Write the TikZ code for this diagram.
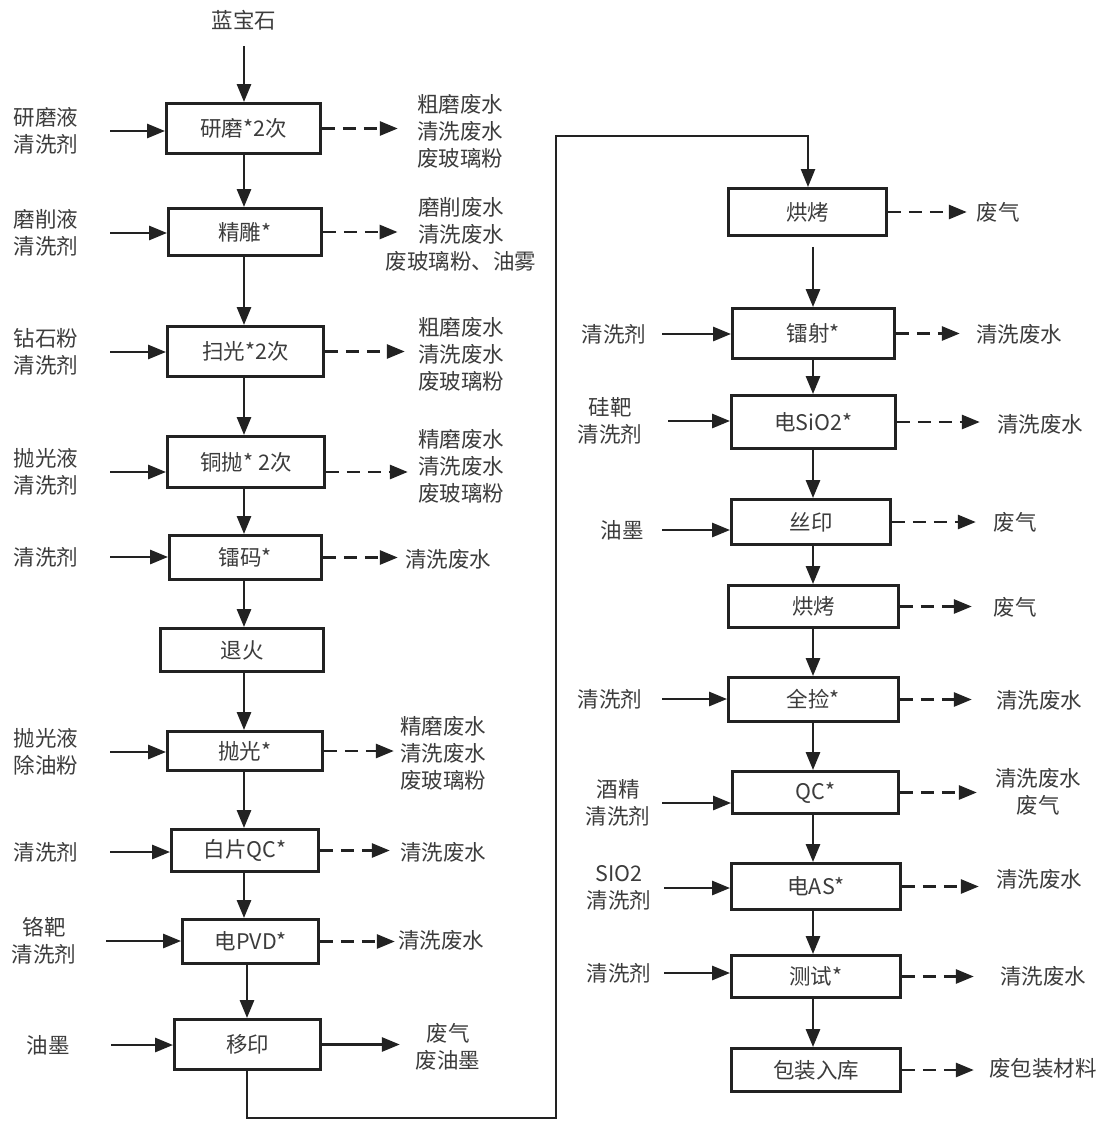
\documentclass[tikz,border=0pt]{standalone}
\usepackage{fontspec}
\newfontfamily\cn{Noto Sans CJK SC}
\usetikzlibrary{arrows.meta}
\definecolor{lc}{HTML}{222222}
\definecolor{tc}{HTML}{3C3C3C}
\newcommand\cnf{\cn\fontsize{21.5pt}{27pt}\selectfont}
\begin{document}
\begin{tikzpicture}[x=1pt,y=-1pt,
  every node/.style={font=\cnf, text=tc, inner sep=0pt, align=center},
  pbox/.style={draw=lc, line width=2.9pt},
  arr/.style={draw=lc, line width=2.8pt, -{Triangle[length=18pt,width=14pt]}},
  darr/.style={arr, dash pattern=on 13pt off 8pt},
  loopline/.style={arr, line width=2.3pt}]
\fill[white] (0,0) rectangle (1102,1121);
\useasboundingbox (0,0) rectangle (1102,1121);

\coordinate (cL) at (244,0);
\coordinate (cL2) at (247,0);
\coordinate (cR) at (813,0);
\coordinate (cR1) at (808,0);
\coordinate (lpb) at (556,1118);
\coordinate (lpt) at (556,136);

% ---------- left column ----------
\node (S) at (244,20) {蓝宝石};
\node[pbox, minimum width=154pt, minimum height=50pt] (B1) at (243.5,128.5) {研磨*2次};
\node[pbox, minimum width=153pt, minimum height=47pt] (B2) at (245,232) {精雕*};
\node[pbox, minimum width=156pt, minimum height=50pt] (B3) at (245.5,351.5) {扫光*2次};
\node[pbox, minimum width=157pt, minimum height=51pt] (B4) at (246,462) {铜抛* 2次};
\node[pbox, minimum width=152pt, minimum height=44pt] (B5) at (245.5,557.5) {镭码*};
\node[pbox, minimum width=163pt, minimum height=43pt] (B6) at (242,650) {退火};
\node[pbox, minimum width=155pt, minimum height=39pt] (B7) at (245,751) {抛光*};
\node[pbox, minimum width=147pt, minimum height=42pt] (B8) at (245,850.5) {白片QC*};
\node[pbox, minimum width=136pt, minimum height=44pt] (B9) at (250.5,941.5) {电PVD*};
\node[pbox, minimum width=146pt, minimum height=50pt] (B10) at (247.5,1044.5) {移印};

\draw[arr, shorten <=16pt] (S.south -| cL) -- (B1.north -| cL);
\draw[arr] (B1.south -| cL) -- (B2.north -| cL);
\draw[arr] (B2.south -| cL) -- (B3.north -| cL);
\draw[arr] (B3.south -| cL) -- (B4.north -| cL);
\draw[arr] (B4.south -| cL) -- (B5.north -| cL);
\draw[arr] (B5.south -| cL) -- (B6.north -| cL);
\draw[arr] (B6.south -| cL) -- (B7.north -| cL);
\draw[arr] (B7.south -| cL) -- (B8.north -| cL);
\draw[arr] (B8.south -| cL) -- (B9.north -| cL);
\draw[arr] (B9.south -| cL2) -- (B10.north -| cL2);

% left inputs
\node[minimum width=128pt] (I1) at (46,131) {研磨液\\清洗剂};
\node[minimum width=128pt] (I2) at (46,233) {磨削液\\清洗剂};
\node[minimum width=128pt] (I3) at (46,352) {钻石粉\\清洗剂};
\node[minimum width=128pt] (I4) at (46,472) {抛光液\\清洗剂};
\node[minimum width=128pt] (I5) at (46,557) {清洗剂};
\node[minimum width=128pt] (I7) at (46,752) {抛光液\\除油粉};
\node[minimum width=128pt] (I8) at (46,852) {清洗剂};
\node[minimum width=124pt] (I9) at (44,941) {铬靶\\清洗剂};
\node[minimum width=126pt] (I10) at (48,1045) {油墨};

\draw[arr] (I1.east) -- (I1.east -| B1.west);
\draw[arr] (I2.east) -- (I2.east -| B2.west);
\draw[arr] (I3.east) -- (I3.east -| B3.west);
\draw[arr] (I4.east) -- (I4.east -| B4.west);
\draw[arr] (I5.east) -- (I5.east -| B5.west);
\draw[arr] (I7.east) -- (I7.east -| B7.west);
\draw[arr] (I8.east) -- (I8.east -| B8.west);
\draw[arr] (I9.east) -- (I9.east -| B9.west);
\draw[arr] (I10.east) -- (I10.east -| B10.west);

% left outputs
\node[minimum width=124pt] (O1) at (460,131) {粗磨废水\\清洗废水\\废玻璃粉};
\node (O2) at (461,234) {磨削废水\\清洗废水\\废玻璃粉、油雾};
\node[minimum width=112pt] (O3) at (461,354) {粗磨废水\\清洗废水\\废玻璃粉};
\node[minimum width=106pt] (O4) at (461,466) {精磨废水\\清洗废水\\废玻璃粉};
\node[minimum width=100pt] (O5) at (448,559) {清洗废水};
\node[minimum width=98pt] (O7) at (443,753) {精磨废水\\清洗废水\\废玻璃粉};
\node[minimum width=106pt] (O8) at (443,852) {清洗废水};
\node[minimum width=92pt] (O9) at (441,940) {清洗废水};
\node[minimum width=96pt] (O10) at (448,1047) {废气\\废油墨};

\draw[darr] (B1.east) -- (B1.east -| O1.west);
\draw[darr, shorten >=-12pt] (B2.east) -- (B2.east -| O2.west);
\draw[darr] (B3.east) -- (B3.east -| O3.west);
\draw[darr] (B4.east |- I4.east) -- (O4.west |- I4.east);
\draw[darr] (B5.east) -- (B5.east -| O5.west);
\draw[darr] (B7.east) -- (B7.east -| O7.west);
\draw[darr] (B8.east) -- (B8.east -| O8.west);
\draw[darr] (B9.east) -- (B9.east -| O9.west);
\draw[arr] (B10.east) -- (B10.east -| O10.west);

% ---------- right column ----------
\node[pbox, minimum width=158pt, minimum height=47pt] (R1) at (807.5,212) {烘烤};
\node[pbox, minimum width=162pt, minimum height=50pt] (R2) at (813.5,333.5) {镭射*};
\node[pbox, minimum width=164pt, minimum height=53pt] (R3) at (813.5,422) {电SiO2*};
\node[pbox, minimum width=159pt, minimum height=45pt] (R4) at (811,522) {丝印};
\node[pbox, minimum width=170pt, minimum height=42pt] (R5) at (813.5,606.5) {烘烤};
\node[pbox, minimum width=170pt, minimum height=44pt] (R6) at (813.5,699.5) {全捡*};
\node[pbox, minimum width=166pt, minimum height=42pt] (R7) at (815.5,792.5) {QC*};
\node[pbox, minimum width=169pt, minimum height=46pt] (R8) at (816,886.5) {电AS*};
\node[pbox, minimum width=169pt, minimum height=42pt] (R9) at (816,976.5) {测试*};
\node[pbox, minimum width=169pt, minimum height=43pt] (R10) at (816,1070) {包装入库};

% ---------- loop ----------
\draw[loopline] (B10.south -| cL2) |- (lpb) -- (lpt) -| (R1.north -| cR1);

\draw[arr, shorten <=10pt] (R1.south -| cR) -- (R2.north -| cR);
\draw[arr] (R2.south -| cR) -- (R3.north -| cR);
\draw[arr] (R3.south -| cR) -- (R4.north -| cR);
\draw[arr] (R4.south -| cR) -- (R5.north -| cR);
\draw[arr] (R5.south -| cR) -- (R6.north -| cR);
\draw[arr] (R6.south -| cR) -- (R7.north -| cR);
\draw[arr] (R7.south -| cR) -- (R8.north -| cR);
\draw[arr] (R8.south -| cR) -- (R9.north -| cR);
\draw[arr] (R9.south -| cR) -- (R10.north -| cR);

% right inputs
\node[minimum width=96pt] (RI2) at (614,334) {清洗剂};
\node[minimum width=116pt] (RI3) at (610,421) {硅靶\\清洗剂};
\node[minimum width=80pt] (RI4) at (622,530) {油墨};
\node[minimum width=104pt] (RI6) at (610,699) {清洗剂};
\node[minimum width=88pt] (RI7) at (618,803) {酒精\\清洗剂};
\node[minimum width=90pt] (RI8) at (619,888) {SIO2\\清洗剂};
\node[minimum width=90pt] (RI9) at (619,973) {清洗剂};

\draw[arr] (RI2.east) -- (RI2.east -| R2.west);
\draw[arr] (RI3.east) -- (RI3.east -| R3.west);
\draw[arr] (RI4.east) -- (RI4.east -| R4.west);
\draw[arr] (RI6.east) -- (RI6.east -| R6.west);
\draw[arr] (RI7.east) -- (RI7.east -| R7.west);
\draw[arr] (RI8.east) -- (RI8.east -| R8.west);
\draw[arr] (RI9.east) -- (RI9.east -| R9.west);

% right outputs
\node[minimum width=62pt] (RO1) at (998,212) {废气};
\node[minimum width=118pt] (RO2) at (1019,334) {清洗废水};
\node[minimum width=120pt] (RO3) at (1040,424) {清洗废水};
\node[minimum width=78pt] (RO4) at (1015,522) {废气};
\node[minimum width=86pt] (RO5) at (1015,607) {废气};
\node[minimum width=134pt] (RO6) at (1039,700) {清洗废水};
\node[minimum width=122pt] (RO7) at (1038,792) {清洗废水\\废气};
\node[minimum width=120pt] (RO8) at (1039,879) {清洗废水};
\node[minimum width=138pt] (RO9) at (1043,976) {清洗废水};
\node[minimum width=138pt] (RO10) at (1043,1068) {废包装材料};

\draw[darr] (R1.east) -- (R1.east -| RO1.west);
\draw[darr] (R2.east) -- (R2.east -| RO2.west);
\draw[darr] (R3.east) -- (R3.east -| RO3.west);
\draw[darr] (R4.east) -- (R4.east -| RO4.west);
\draw[darr] (R5.east) -- (R5.east -| RO5.west);
\draw[darr] (R6.east) -- (R6.east -| RO6.west);
\draw[darr] (R7.east) -- (R7.east -| RO7.west);
\draw[darr] (R8.east) -- (R8.east -| RO8.west);
\draw[darr] (R9.east) -- (R9.east -| RO9.west);
\draw[darr] (R10.east) -- (R10.east -| RO10.west);
\end{tikzpicture}
\end{document}
